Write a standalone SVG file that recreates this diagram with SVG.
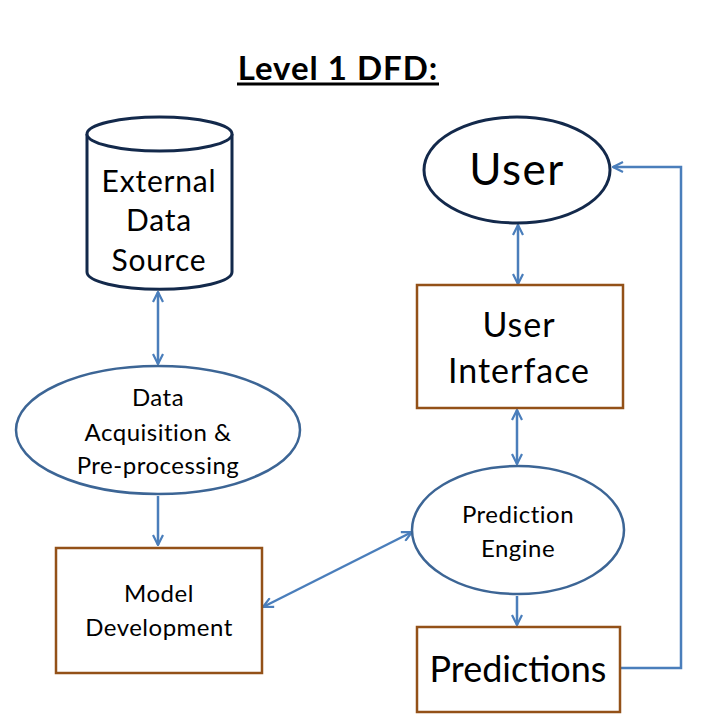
<svg xmlns="http://www.w3.org/2000/svg" width="717" height="727" viewBox="0 0 717 727">
<defs>
<marker id="ah" viewBox="0 0 12 12" refX="11" refY="6" markerWidth="12" markerHeight="12" markerUnits="userSpaceOnUse" orient="auto-start-reverse">
<path d="M1,1 L11,6 L1,11" fill="none" stroke="#4a7ebb" stroke-width="2.2"/>
</marker>
</defs>
<style>
text{font-family:Lato,"Open Sans","Liberation Sans",sans-serif;fill:#000;text-anchor:middle}
.s{font-size:24px;letter-spacing:0.5px}
.m{font-size:30px;letter-spacing:0.8px}
.l{font-size:34px;letter-spacing:1px}
.proc{fill:#fff;stroke:#3c6595;stroke-width:2.5}
.ent{fill:#fff;stroke:#13294b;stroke-width:3}
.box{fill:#fff;stroke:#935118;stroke-width:2.5}
.c{fill:none;stroke:#4a7ebb;stroke-width:2.5}
</style>
<rect width="717" height="727" fill="#fff"/>
<g id="title">
<text x="338" y="80" font-size="33" font-weight="bold" letter-spacing="1">Level 1 DFD:</text>
<line x1="237" y1="84" x2="439" y2="84" stroke="#000" stroke-width="3"/>
</g>
<g id="connectors">
<line class="c" x1="158" y1="292" x2="158" y2="364" marker-start="url(#ah)" marker-end="url(#ah)"/>
<line class="c" x1="158" y1="496" x2="158" y2="545" marker-end="url(#ah)"/>
<line class="c" x1="518" y1="225" x2="518" y2="284" marker-start="url(#ah)" marker-end="url(#ah)"/>
<line class="c" x1="517" y1="410" x2="517" y2="464" marker-start="url(#ah)" marker-end="url(#ah)"/>
<line class="c" x1="517" y1="596" x2="517" y2="625" marker-end="url(#ah)"/>
<line class="c" x1="263" y1="607" x2="412" y2="532" marker-start="url(#ah)" marker-end="url(#ah)"/>
<polyline class="c" points="621,668 681,668 681,167 613,167" marker-end="url(#ah)"/>
</g>
<g id="external-data-source">
<path class="ent" d="M87,134 L87,272 A71,17 0 0 0 232,272 L232,134"/>
<ellipse class="ent" cx="159.5" cy="134" rx="72.5" ry="17"/>
<text class="m" x="159" y="192">External</text>
<text class="m" x="159" y="231">Data</text>
<text class="m" x="159" y="271">Source</text>
</g>
<g id="data-acquisition">
<ellipse class="proc" cx="158" cy="430" rx="142" ry="64"/>
<text class="s" x="158" y="406">Data</text>
<text class="s" x="158" y="441">Acquisition &amp;</text>
<text class="s" x="158" y="474">Pre-processing</text>
</g>
<g id="model-development">
<rect class="box" x="56" y="548" width="206" height="125"/>
<text class="s" x="159" y="602">Model</text>
<text class="s" x="159" y="636">Development</text>
</g>
<g id="user">
<ellipse class="ent" cx="517" cy="170" rx="93" ry="53"/>
<text x="517" y="185" font-size="44" letter-spacing="1.5">User</text>
</g>
<g id="user-interface">
<rect class="box" x="417" y="285" width="206" height="123"/>
<text class="l" x="519" y="337">User</text>
<text class="l" x="519" y="383">Interface</text>
</g>
<g id="prediction-engine">
<ellipse class="proc" cx="518" cy="530" rx="106" ry="64"/>
<text class="s" x="518" y="523">Prediction</text>
<text class="s" x="518" y="557">Engine</text>
</g>
<g id="predictions">
<rect class="box" x="417" y="627" width="203" height="85"/>
<text x="518" y="682" font-size="36">Predictions</text>
</g>
</svg>
